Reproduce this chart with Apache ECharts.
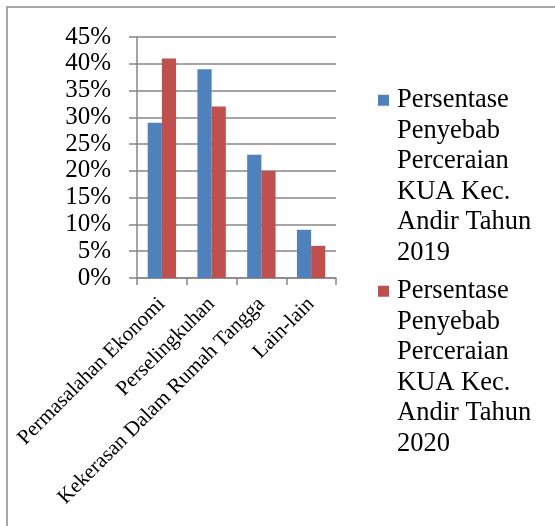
<!DOCTYPE html>
<html>
<head>
<meta charset="utf-8">
<script src="https://cdn.jsdelivr.net/npm/echarts@6/dist/echarts.min.js"></script>
<style>
html,body{margin:0;padding:0;background:#fff;}
#chart{width:555px;height:526px;}
</style>
</head>
<body>
<div id="chart"></div>
<script>
const categories = ['Permasalahan Ekonomi', 'Perselingkuhan', 'Kekerasan Dalam Rumah Tangga', 'Lain-lain'];
const seriesNames = [
  'Persentase Penyebab Perceraian KUA Kec. Andir Tahun 2019',
  'Persentase Penyebab Perceraian KUA Kec. Andir Tahun 2020'
];
const values2019 = [29, 39, 23, 9];
const values2020 = [41, 32, 20, 6];
const legendLines = [
  ['Persentase', 'Penyebab', 'Perceraian', 'KUA Kec.', 'Andir Tahun', '2019'],
  ['Persentase', 'Penyebab', 'Perceraian', 'KUA Kec.', 'Andir Tahun', '2020']
];
const colors = ['#4F81BD', '#C0504D'];
const FONT = "'Liberation Serif', 'Times New Roman', serif";

const chart = echarts.init(document.getElementById('chart'), null, {renderer: 'canvas'});
chart.setOption({
  animation: false,
  backgroundColor: '#ffffff',
  color: colors,
  graphic: [{
    type: 'rect',
    shape: {x: 7, y: 7, width: 600, height: 600},
    style: {fill: 'none', stroke: '#8a8a8a', lineWidth: 1.5},
    silent: true
  }],
  grid: {left: 137, right: 219, top: 37, bottom: 248, containLabel: false, outerBoundsMode: 'none'},
  legend: {
    orient: 'vertical',
    left: 373,
    top: 85,
    padding: 0,
    itemGap: 8,
    itemWidth: 0,
    itemHeight: 14,
    selectedMode: false,
    data: seriesNames,
    formatter: function (name) {
      const idx = seriesNames.indexOf(name);
      const lines = legendLines[idx];
      return lines.map(function (l, i) {
        return (i === 0 ? '{sq' + idx + '|}{g|}' : '{ind|}') + '{t|' + l + '}';
      }).join('\n');
    },
    textStyle: {
      color: '#000',
      fontFamily: FONT,
      fontSize: 26.5,
      lineHeight: 30.5,
      rich: {
        sq0: {width: 11, height: 11, backgroundColor: colors[0]},
        sq1: {width: 11, height: 11, backgroundColor: colors[1]},
        g: {width: 8},
        ind: {width: 19},
        t: {fontFamily: FONT, fontSize: 26.5, lineHeight: 30.5, color: '#000'}
      }
    }
  },
  xAxis: {
    type: 'category',
    data: categories,
    axisLine: {show: true, lineStyle: {color: '#878787', width: 1.5}},
    axisTick: {show: true, alignWithLabel: false, length: 7, lineStyle: {color: '#878787', width: 1.5}},
    axisLabel: {
      interval: 0,
      rotate: 45,
      margin: 23,
      color: '#000',
      fontFamily: FONT,
      fontSize: 21
    },
    splitLine: {show: false}
  },
  yAxis: {
    type: 'value',
    min: 0,
    max: 45,
    interval: 5,
    axisLine: {show: true, lineStyle: {color: '#878787', width: 1.5}},
    axisTick: {show: true, length: 8, lineStyle: {color: '#878787', width: 1.5}},
    axisLabel: {
      formatter: '{value}%',
      margin: 26,
      color: '#000',
      fontFamily: FONT,
      fontSize: 25
    },
    splitLine: {show: true, lineStyle: {color: '#878787', width: 1.5}}
  },
  series: [
    {name: seriesNames[0], type: 'bar', data: values2019, barGap: '0%', barCategoryGap: '43%',
     itemStyle: {color: colors[0]}},
    {name: seriesNames[1], type: 'bar', data: values2020, barGap: '0%', barCategoryGap: '43%',
     itemStyle: {color: colors[1]}}
  ]
});
</script>
</body>
</html>
